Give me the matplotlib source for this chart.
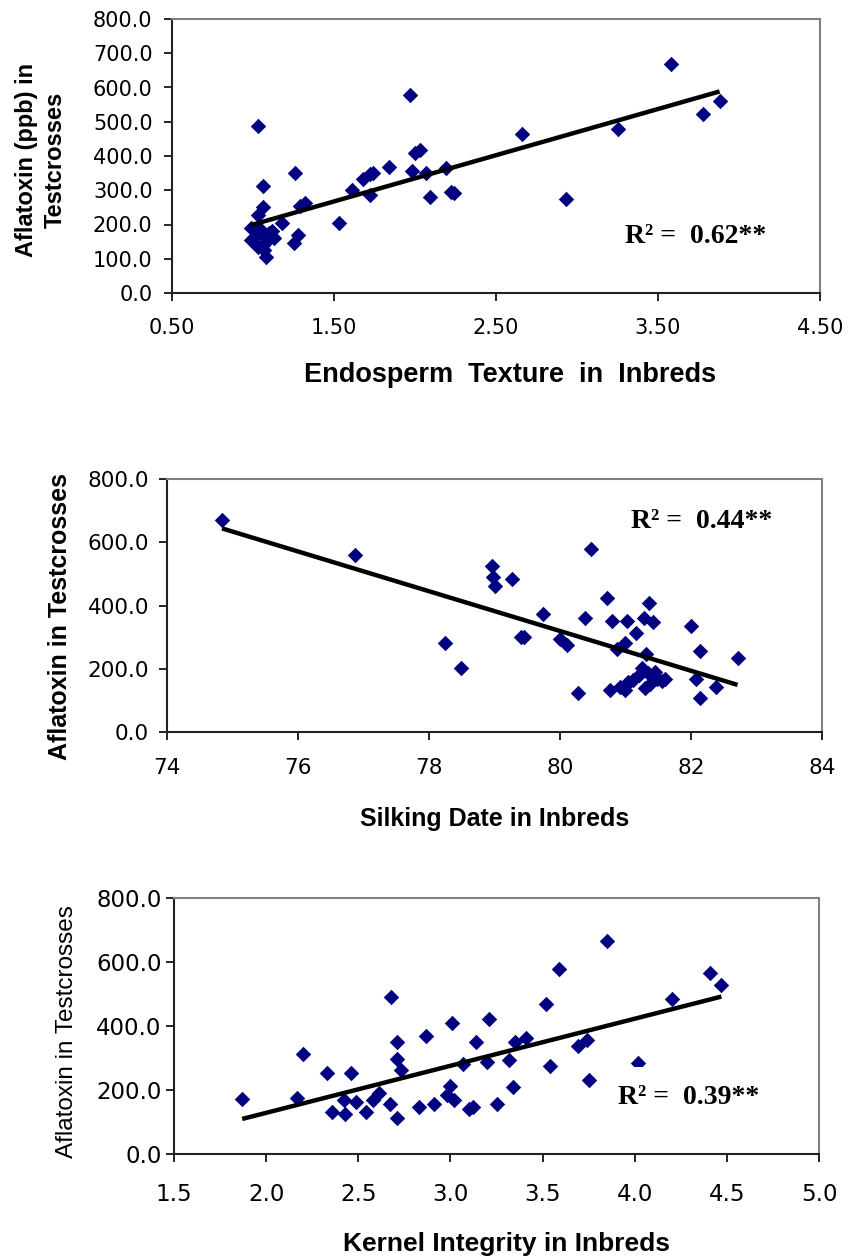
import numpy as np
import matplotlib
matplotlib.use("Agg")
import matplotlib.pyplot as plt

# Endosperm texture vs aflatoxin (top panel)
texture = [1.03, 1.97, 2.03, 2.00, 1.06, 1.26, 1.84, 1.74, 1.72, 1.68, 1.98, 2.07,
           2.19, 1.61, 1.72, 2.09, 2.24, 2.22, 1.32, 1.29, 1.06, 1.03, 1.53, 1.18,
           1.28, 1.25, 0.99, 0.99, 1.05, 1.10, 1.13, 1.03, 1.07, 1.08, 2.66, 2.93,
           3.25, 3.58, 3.78, 3.88, 1.02, 1.08, 1.04, 1.12, 1.06]
afla_texture = [488, 578, 418, 408, 312, 351, 369, 351, 347, 332, 357, 349,
                364, 301, 286, 281, 293, 295, 262, 254, 250, 228, 205, 203,
                169, 147, 189, 155, 174, 174, 160, 135, 125, 106, 464, 274,
                478, 668, 522, 561, 165, 150, 190, 180, 140]

# Silking date vs aflatoxin (middle panel)
silking = [74.84, 76.87, 78.24, 78.49, 78.96, 78.98, 79.00, 79.27, 80.48, 79.74,
           79.40, 79.45, 80.00, 80.11, 80.38, 80.71, 80.79, 81.02, 81.16, 81.36,
           81.29, 81.42, 82.00, 82.14, 82.71, 80.87, 80.99, 80.28, 80.76, 80.99,
           81.32, 81.25, 81.35, 81.38, 81.48, 81.60, 81.12, 81.04, 80.92, 82.08,
           82.38, 82.14, 81.20, 81.45, 81.55, 81.00, 81.30]
afla_silking = [671, 560, 283, 202, 525, 489, 462, 483, 578, 373,
                299, 301, 293, 275, 359, 425, 351, 351, 314, 409,
                359, 349, 336, 256, 233, 261, 282, 124, 132, 134,
                246, 201, 185, 153, 169, 169, 164, 159, 143, 167,
                143, 109, 180, 190, 160, 150, 140]

# Kernel integrity vs aflatoxin (bottom panel)
kernel = [1.87, 2.20, 2.17, 2.33, 2.46, 2.36, 2.42, 2.43, 2.49, 2.54, 2.58, 2.61,
          2.67, 2.71, 2.68, 2.71, 2.71, 2.73, 2.87, 2.83, 2.91, 3.01, 3.00, 2.98,
          3.02, 3.07, 3.14, 3.10, 3.12, 3.21, 3.20, 3.25, 3.32, 3.34, 3.35, 3.59,
          3.52, 3.41, 3.54, 3.69, 3.74, 3.75, 4.02, 4.20, 4.41, 4.47, 3.85]
afla_kernel = [171, 312, 174, 252, 252, 132, 169, 125, 164, 132, 169, 192,
               156, 112, 490, 349, 297, 263, 370, 148, 155, 409, 211, 185,
               169, 282, 349, 140, 148, 422, 289, 156, 294, 209, 351, 578,
               468, 364, 275, 338, 357, 232, 284, 484, 565, 527, 667]

r2_labels = ["R\u00b2 =  0.62**", "R\u00b2 =  0.44**", "R\u00b2 =  0.39**"]

W, H = 850, 1259
fig = plt.figure(figsize=(W / 100, H / 100), dpi=100)


def px_axes(left, right, top, bottom):
    return fig.add_axes([left / W, 1 - bottom / H, (right - left) / W, (bottom - top) / H])


def style(ax, size, xpad, ypad):
    for s in ("top", "right"):
        ax.spines[s].set_color("#808080")
        ax.spines[s].set_linewidth(1.5)
    for s in ("left", "bottom"):
        ax.spines[s].set_color("#222222")
        ax.spines[s].set_linewidth(1.5)
    ax.tick_params(direction="out", length=6, width=1.2, labelsize=size)
    ax.tick_params(axis="x", pad=xpad)
    ax.tick_params(axis="y", pad=ypad)
    for lab in ax.get_xticklabels() + ax.get_yticklabels():
        lab.set_family("DejaVu Sans")


def panel(ax, x, y, label, r2pos):
    x = np.asarray(x, float)
    y = np.asarray(y, float)
    ax.scatter(x, y, marker="D", s=62, color="#000080", zorder=3, linewidths=0)
    k, b = np.polyfit(x, y, 1)
    xs = np.array([x.min(), x.max()])
    ax.plot(xs, k * xs + b, color="black", lw=3.2, zorder=4, solid_capstyle="butt")
    ax.text(r2pos[0], r2pos[1], label, transform=ax.transAxes, ha="left", va="baseline",
            family="Liberation Serif", fontweight="bold", fontsize=20, zorder=5,
            bbox=dict(facecolor="white", edgecolor="none", pad=13))


# top
ax1 = px_axes(172, 820, 19, 293)
panel(ax1, texture, afla_texture, r2_labels[0], (0.699, 0.182))
ax1.set_xlim(0.5, 4.5)
ax1.set_ylim(0, 800)
ax1.set_xticks(np.arange(0.5, 4.51, 1.0))
ax1.set_xticklabels([f"{v:.2f}" for v in np.arange(0.5, 4.51, 1.0)])
ax1.set_yticks(np.arange(0, 801, 100))
ax1.set_yticklabels([f"{v:.1f}" for v in np.arange(0, 801, 100)])
style(ax1, 15, 12, 8)

# middle
ax2 = px_axes(167, 822, 479, 732)
panel(ax2, silking, afla_silking, r2_labels[1], (0.709, 0.806))
ax2.set_xlim(74, 84)
ax2.set_ylim(0, 800)
ax2.set_xticks(np.arange(74, 85, 2))
ax2.set_yticks(np.arange(0, 801, 200))
ax2.set_yticklabels([f"{v:.1f}" for v in np.arange(0, 801, 200)])
style(ax2, 15.5, 13, 7)

# bottom
ax3 = px_axes(174, 819, 898, 1154)
panel(ax3, kernel, afla_kernel, r2_labels[2], (0.689, 0.196))
ax3.set_xlim(1.5, 5.0)
ax3.set_ylim(0, 800)
ax3.set_xticks(np.arange(1.5, 5.01, 0.5))
ax3.set_xticklabels([f"{v:.1f}" for v in np.arange(1.5, 5.01, 0.5)])
ax3.set_yticks(np.arange(0, 801, 200))
ax3.set_yticklabels([f"{v:.1f}" for v in np.arange(0, 801, 200)])
style(ax3, 16.5, 15, 3)

bold = dict(family="Liberation Sans", fontweight="bold")
fig.text(510 / W, 1 - 382 / H, "Endosperm  Texture  in  Inbreds", ha="center", va="baseline",
         fontsize=19.5, **bold)
fig.text(495 / W, 1 - 826 / H, "Silking Date in Inbreds", ha="center", va="baseline",
         fontsize=18, **bold)
fig.text(506 / W, 1 - 1251 / H, "Kernel Integrity in Inbreds", ha="center", va="baseline",
         fontsize=19, **bold)

fig.text(41 / W, 1 - 160 / H, "Aflatoxin (ppb) in\nTestcrosses", ha="center", va="center",
         rotation=90, fontsize=17, linespacing=1.35, multialignment="center", **bold)
fig.text(60 / W, 1 - 616 / H, "Aflatoxin in Testcrosses", ha="center", va="center",
         rotation=90, fontsize=18, **bold)
fig.text(67 / W, 1 - 1032 / H, "Aflatoxin in Testcrosses", ha="center", va="center",
         rotation=90, fontsize=17.5, family="Liberation Sans")

fig.savefig("out.png", dpi=100)
